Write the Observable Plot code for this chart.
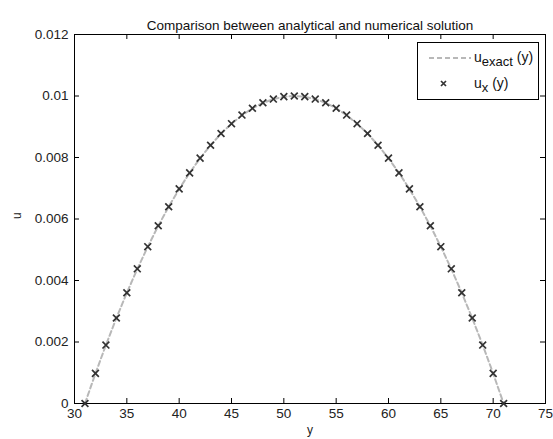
<!DOCTYPE html>
<html>
<head>
<meta charset="utf-8">
<script src="https://cdn.jsdelivr.net/npm/d3@7"></script>
<script src="https://cdn.jsdelivr.net/npm/@observablehq/plot@0.6"></script>
<style>
  html, body { margin: 0; padding: 0; background: #fff; }
  #wrap { position: relative; width: 553px; height: 439px; font-family: "Liberation Sans", Arial, sans-serif; }
  #legend { position: absolute; left: 417px; top: 42px; width: 122px; height: 58px; border: 1px solid #000; background: #fff; box-sizing: border-box; }
  #legend svg { position: absolute; left: 0; top: 0; }
</style>
</head>
<body>
<div id="wrap"></div>
<script>
const yPos = [31,32,33,34,35,36,37,38,39,40,41,42,43,44,45,46,47,48,49,50,51,52,53,54,55,56,57,58,59,60,61,62,63,64,65,66,67,68,69,70,71];
const uExact = [0,0.000975,0.0019,0.002775,0.0036,0.004375,0.0051,0.005775,0.0064,0.006975,0.0075,0.007975,0.0084,0.008775,0.0091,0.009375,0.0096,0.009775,0.0099,0.009975,0.01,0.009975,0.0099,0.009775,0.0096,0.009375,0.0091,0.008775,0.0084,0.007975,0.0075,0.006975,0.0064,0.005775,0.0051,0.004375,0.0036,0.002775,0.0019,0.000975,0];
const uNum = [0,0.00098,0.0019,0.00278,0.0036,0.00438,0.0051,0.00578,0.0064,0.00698,0.0075,0.00798,0.0084,0.00878,0.0091,0.00938,0.0096,0.00978,0.0099,0.00998,0.01,0.00998,0.0099,0.00978,0.0096,0.00938,0.0091,0.00878,0.0084,0.00798,0.0075,0.00698,0.0064,0.00578,0.0051,0.00438,0.0036,0.00278,0.0019,0.00098,0];
const xTicks = [30,35,40,45,50,55,60,65,70,75];
const yTicks = [0,0.002,0.004,0.006,0.008,0.01,0.012];
const yTickLabels = ["0","0.002","0.004","0.006","0.008","0.01","0.012"];
const title = "Comparison between analytical and numerical solution";

const exact = yPos.map((y, i) => ({y, u: uExact[i]}));
const num = yPos.map((y, i) => ({y, u: uNum[i]}));

const W = 553, H = 439, mL = 74, mR = 8, mT = 34, mB = 36;
const pw = W - mL - mR, ph = H - mT - mB;
const tk = 5;

const chart = Plot.plot({
  width: W, height: H,
  marginLeft: mL, marginRight: mR, marginTop: mT, marginBottom: mB,
  style: {fontFamily: "Liberation Sans, Arial, sans-serif", fontSize: "13px", color: "#000", background: "#fff"},
  x: {domain: [30, 75], axis: null},
  y: {domain: [0, 0.012], axis: null},
  marks: [
    Plot.frame({stroke: "#000", strokeWidth: 1}),
    Plot.tickX(xTicks, {x: d => d, stroke: "#000", insetTop: ph - tk}),
    Plot.tickX(xTicks, {x: d => d, stroke: "#000", insetBottom: ph - tk}),
    Plot.tickY(yTicks, {y: d => d, stroke: "#000", insetRight: pw - tk}),
    Plot.tickY(yTicks, {y: d => d, stroke: "#000", insetLeft: pw - tk}),
    Plot.text(xTicks, {x: d => d, frameAnchor: "bottom", dy: 14, text: d => String(d), fontSize: 13.5, fill: "#222"}),
    Plot.text(yTicks, {y: d => d, frameAnchor: "left", dx: -6, textAnchor: "end", text: (d, i) => yTickLabels[i], fontSize: 13.5, fill: "#222"}),
    Plot.line(exact, {x: "y", y: "u", stroke: "#b8b8b8", strokeWidth: 2, strokeDasharray: "5,3"}),
    Plot.dot(num, {x: "y", y: "u", symbol: "times", r: 3.2, stroke: "#333", strokeWidth: 1.7}),
    Plot.text([title], {frameAnchor: "top", dy: -14, fontSize: 13.5, fill: "#111"}),
    Plot.text(["u"], {frameAnchor: "left", dx: -57, rotate: -90, fontSize: 12, fill: "#222"}),
    Plot.text(["y"], {frameAnchor: "bottom", dy: 30, fontSize: 12, fill: "#222"})
  ]
});

const wrap = document.getElementById("wrap");
wrap.appendChild(chart);

const legend = document.createElement("div");
legend.id = "legend";
legend.innerHTML = `
<svg width="122" height="58" xmlns="http://www.w3.org/2000/svg" font-family="Liberation Sans, Arial, sans-serif" font-size="14" fill="#111">
  <line x1="11" y1="15" x2="53" y2="15" stroke="#b8b8b8" stroke-width="2" stroke-dasharray="5,3"/>
  <text x="56" y="19">u<tspan font-size="13" dy="4">exact</tspan><tspan dy="-4"> (y)</tspan></text>
  <path d="M23,38 l5,5 M28,38 l-5,5" stroke="#333" stroke-width="1.7"/>
  <text x="56" y="45">u<tspan font-size="13" dy="4">x</tspan><tspan dy="-4"> (y)</tspan></text>
</svg>`;
wrap.appendChild(legend);
</script>
</body>
</html>
